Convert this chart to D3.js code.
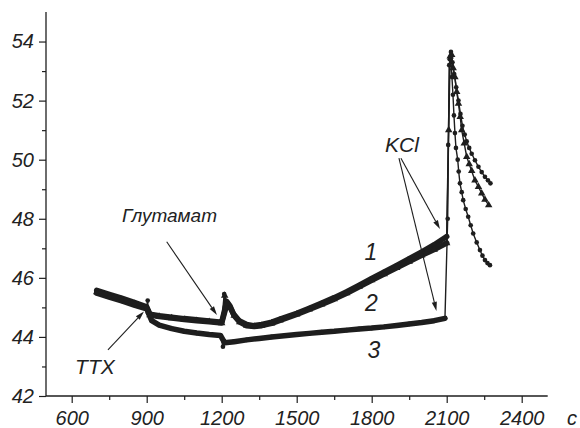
<!DOCTYPE html>
<html><head><meta charset="utf-8">
<script src="https://cdn.jsdelivr.net/npm/d3@7"></script>
<style>
html,body{margin:0;padding:0;background:#fff;}
svg text{font-family:"Liberation Sans",Arial,sans-serif;font-style:italic;fill:#222;}
</style></head>
<body><svg id="c" width="580" height="428"></svg>
<script>
// ---- data (time, s ; value) ----
const t1 = [700,750,800,850,900,904,906,913,950,1000,1050,1100,1150,1200,1210,1220,1233,1247,1270,1300,1327,1360,1400,1433,1500,1550,1600,1650,1700,1750,1800,1850,1900,1950,2000,2050,2100,2106,2112,2117,2123,2130,2138,2147,2155,2163,2172,2180,2190,2200,2213,2227,2240,2253,2265,2275];
const v1 = [45.58,45.44,45.31,45.17,45.02,45.23,44.8,44.77,44.72,44.67,44.62,44.58,44.54,44.5,45.45,45.2,45.05,44.78,44.55,44.42,44.38,44.42,44.5,44.6,44.8,44.97,45.15,45.33,45.53,45.75,45.98,46.2,46.42,46.65,46.88,47.12,47.4,50.5,53.4,53.65,53.3,52.9,52.45,52.0,51.55,51.15,50.85,50.62,50.4,50.2,49.98,49.76,49.58,49.42,49.3,49.2];
const t2 = [700,750,800,850,900,913,950,1000,1050,1100,1150,1200,1212,1222,1235,1250,1272,1300,1330,1360,1400,1433,1500,1550,1600,1650,1700,1750,1800,1850,1900,1950,2000,2050,2100,2108,2114,2120,2126,2133,2140,2147,2154,2160,2170,2180,2190,2200,2213,2227,2240,2253,2268];
const v2 = [45.52,45.38,45.26,45.12,44.98,44.74,44.69,44.64,44.59,44.55,44.51,44.47,45.4,45.15,44.98,44.72,44.5,44.38,44.35,44.38,44.46,44.56,44.76,44.93,45.1,45.28,45.48,45.7,45.92,46.13,46.34,46.55,46.76,46.96,47.18,51.0,53.5,53.55,53.1,52.8,52.3,51.9,51.45,51.0,50.55,50.1,49.85,49.62,49.3,49.08,48.86,48.65,48.46];
const t3 = [700,750,800,850,900,920,950,1000,1050,1100,1150,1195,1205,1212,1250,1300,1350,1400,1450,1500,1550,1600,1650,1700,1750,1800,1850,1900,1950,2000,2050,2093,2104,2110,2116,2121,2125,2129,2133,2137,2144,2148,2153,2160,2166,2176,2186,2196,2206,2220,2233,2243,2253,2263,2273];
const v3 = [45.48,45.35,45.22,45.08,44.95,44.55,44.4,44.28,44.19,44.13,44.08,44.05,43.67,43.8,43.84,43.9,43.95,44.0,44.04,44.08,44.12,44.16,44.19,44.23,44.27,44.3,44.34,44.39,44.44,44.49,44.55,44.63,48.0,53.2,53.5,52.8,52.2,51.5,50.9,50.4,50.0,49.6,49.2,48.9,48.63,48.33,48.07,47.78,47.5,47.2,46.94,46.75,46.6,46.5,46.43];
const KCL_T = 2100;
// single-sample excursions drawn as thin lines only (TTX spike, glutamate jump/dip)
const thin1 = [904,906,1210];
const thin2 = [1212];
const thin3 = [1205];

const xTicks = [600,900,1200,1500,1800,2100,2400];
const xMinor = [750,1050,1350,1650,1950,2250];
const yTicks = [42,44,46,48,50,52,54];
const yMinor = [43,45,47,49,51,53];
const xUnit = "c";

// annotations (in data coordinates)
const labels = [
  {text:"TTX", t:693, v:42.74, size:21},
  {text:"Глутамат", t:991, v:47.89, size:19},
  {text:"KCl", t:1921, v:50.26, size:21},
  {text:"1", t:1797, v:46.6, size:23},
  {text:"2", t:1799, v:44.89, size:23},
  {text:"3", t:1809, v:43.28, size:23}
];
const arrows = [
  {t0:745, v0:43.56, t1:889, v1:44.86},
  {t0:980, v0:47.22, t1:1181, v1:44.74},
  {t0:1917, v0:50.05, t1:2073, v1:47.65},
  {t0:1909, v0:50.05, t1:2059, v1:44.88}
];

// ---- drawing ----
const svg = d3.select("#c");
const x = d3.scaleLinear().domain([500,2500]).range([46.7,546.7]);
const y = d3.scaleLinear().domain([42,55]).range([396,12]);
const ink = "#1e1e1e";
const FONT = "'Liberation Sans',Arial,sans-serif";

const series = [
  {t:t1, v:v1, sym:"circle", thin:thin1},
  {t:t2, v:v2, sym:"triangle", thin:thin2},
  {t:t3, v:v3, sym:"circle", thin:thin3}
].map(s => ({sym:s.sym, thin:s.thin, pts:s.t.map((d,i)=>({t:d, v:s.v[i]}))}));

const line = d3.line().x(d=>x(d.t)).y(d=>y(d.v));

function styleTickText(a){
  a.selectAll("text").attr("fill","#222").attr("font-size",20)
   .attr("font-style","italic").attr("font-family",FONT)
   .style("font-family",FONT).style("font-style","italic");
}

// axes
const gx = svg.append("g").attr("transform","translate(0,396)");
gx.append("line").attr("x1",46).attr("x2",547.7).attr("stroke",ink).attr("stroke-width",1.3);
gx.append("g").call(d3.axisBottom(x).tickValues(xTicks).tickSize(7).tickFormat(d3.format("d")))
  .call(a=>{a.select(".domain").remove();
    a.selectAll("line").attr("stroke",ink).attr("stroke-width",1.2);
    styleTickText(a);
    a.selectAll("text").attr("y",28.5).attr("dy",null);});
gx.append("g").call(d3.axisBottom(x).tickValues(xMinor).tickSize(4).tickFormat(""))
  .call(a=>{a.select(".domain").remove(); a.selectAll("line").attr("stroke",ink).attr("stroke-width",1.2);});
gx.append("text").attr("x",572).attr("y",28.5).attr("text-anchor","middle").attr("font-size",20).text(xUnit);

const gy = svg.append("g").attr("transform","translate(46,0)");
gy.append("line").attr("y1",12).attr("y2",396).attr("stroke",ink).attr("stroke-width",1.3);
gy.append("g").call(d3.axisLeft(y).tickValues(yTicks).tickSize(7).tickFormat(d3.format("d")))
  .call(a=>{a.select(".domain").remove();
    a.selectAll("line").attr("stroke",ink).attr("stroke-width",1.2);
    styleTickText(a);
    a.selectAll("text").attr("x",-12);});
gy.append("g").call(d3.axisLeft(y).tickValues(yMinor).tickSize(4).tickFormat(""))
  .call(a=>{a.select(".domain").remove(); a.selectAll("line").attr("stroke",ink).attr("stroke-width",1.2);});

// curves
const gc = svg.append("g");
series.forEach(s=>{
  gc.append("path").datum(s.pts.filter(d=>d.t<=KCL_T && !s.thin.includes(d.t)))
    .attr("d",line).attr("fill","none").attr("stroke",ink).attr("stroke-width",5.5)
    .attr("stroke-linejoin","round").attr("stroke-linecap","round");
  gc.append("path").datum(s.pts).attr("d",line).attr("fill","none")
    .attr("stroke",ink).attr("stroke-width",1.4);
  const sym = d3.symbol().type(s.sym==="circle"?d3.symbolCircle:d3.symbolTriangle).size(s.sym==="circle"?17:24);
  gc.selectAll(null).data(s.pts).join("path")
    .attr("transform",d=>`translate(${x(d.t)},${y(d.v)})`).attr("d",sym()).attr("fill",ink);
});

// arrows
const ga = svg.append("g");
arrows.forEach(a=>{
  const X0=x(a.t0),Y0=y(a.v0),X1=x(a.t1),Y1=y(a.v1);
  const L=Math.hypot(X1-X0,Y1-Y0), ux=(X1-X0)/L, uy=(Y1-Y0)/L;
  const hl=9, hw=2.6;
  const bx=X1-ux*hl, by=Y1-uy*hl;
  ga.append("line").attr("x1",X0).attr("y1",Y0).attr("x2",bx).attr("y2",by)
    .attr("stroke",ink).attr("stroke-width",1.1);
  ga.append("path").attr("d",`M${X1},${Y1}L${bx-uy*hw},${by+ux*hw}L${bx+uy*hw},${by-ux*hw}Z`).attr("fill",ink);
});

// labels
svg.append("g").selectAll("text").data(labels).join("text")
  .attr("x",d=>x(d.t)).attr("y",d=>y(d.v)).attr("text-anchor","middle")
  .attr("font-size",d=>d.size).text(d=>d.text);
</script></body></html>
